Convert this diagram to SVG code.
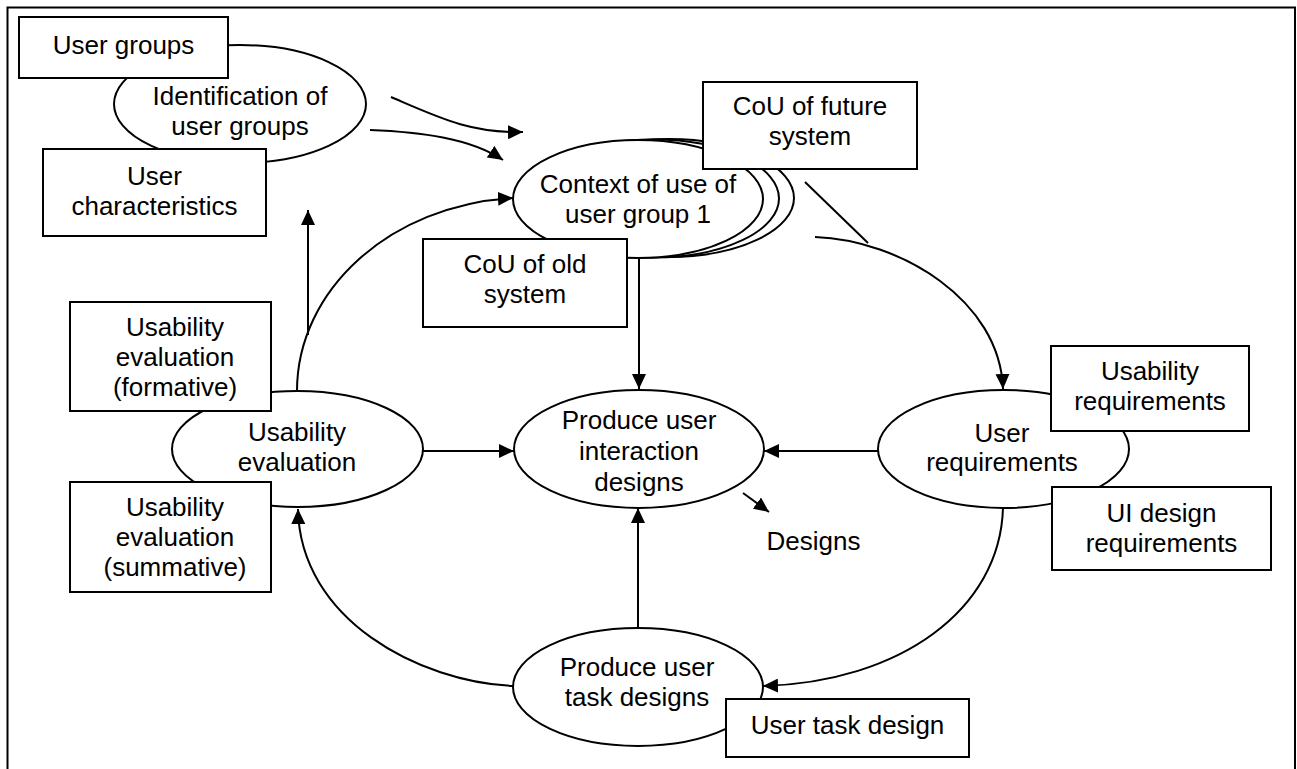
<svg xmlns="http://www.w3.org/2000/svg" width="1297" height="769" viewBox="0 0 1297 769">
  <defs>
    <marker id="arrow" markerWidth="16" markerHeight="14" refX="15" refY="7" orient="auto" markerUnits="userSpaceOnUse">
      <path d="M0,0 L15,7 L0,14 Z" fill="#000"/>
    </marker>
    <style>
      .box { fill: #fff; stroke: #000; stroke-width: 2; }
      .oval { fill: #fff; stroke: #000; stroke-width: 2; }
      .ln { fill: none; stroke: #000; stroke-width: 2; }
      .arr { fill: none; stroke: #000; stroke-width: 2; marker-end: url(#arrow); }
      text { font-family: "Liberation Sans", Arial, sans-serif; font-size: 26px; fill: #000; text-anchor: middle; }
    </style>
  </defs>

  <rect width="1297" height="769" fill="#fff"/>
  <!-- outer frame (open at the bottom) -->
  <rect x="7.5" y="7.5" width="1287.5" height="800" fill="none" stroke="#000" stroke-width="2"/>

  <!-- connectors -->
  <g id="connectors">
    <path class="arr" d="M391,97 C440,118 470,133 523,132"/>
    <path class="arr" d="M370,130 C420,132 470,138 503,160"/>
    <path class="arr" d="M297,391 C297,290 390,205 513,198"/>
    <path class="arr" d="M308,335 L308,210"/>
    <path class="arr" d="M639,258 L639,389"/>
    <path class="arr" d="M815,237 C900,240 1000,300 1003,389"/>
    <path class="ln" d="M805,182 L868,243"/>
    <path class="arr" d="M423,451 L514,451"/>
    <path class="arr" d="M879,451 L764,451"/>
    <path class="arr" d="M638,628 L638,508"/>
    <path class="arr" d="M1003,508 C1000,610 900,682 763,686"/>
    <path class="arr" d="M513,686 C420,682 300,620 298,509"/>
    <path class="arr" d="M743,493 L769,512"/>
  </g>

  <!-- Identification of user groups -->
  <g id="identification">
    <ellipse class="oval" cx="240" cy="104" rx="126" ry="59"/>
    <text x="240" y="105">Identification of</text>
    <text x="240" y="135">user groups</text>
  </g>
  <g id="user-groups">
    <rect class="box" x="19" y="17" width="209" height="61"/>
    <text x="123.5" y="54">User groups</text>
  </g>
  <g id="user-characteristics">
    <rect class="box" x="43" y="149" width="223" height="87"/>
    <text x="154.5" y="185">User</text>
    <text x="154.5" y="215">characteristics</text>
  </g>

  <!-- Context of use, stacked for several user groups -->
  <g id="context-of-use">
    <ellipse class="oval" cx="669" cy="198" rx="125" ry="59"/>
    <ellipse class="oval" cx="654" cy="198.5" rx="125" ry="59"/>
    <ellipse class="oval" cx="638" cy="199" rx="125" ry="59"/>
    <text x="638" y="193">Context of use of</text>
    <text x="638" y="223">user group 1</text>
  </g>
  <g id="cou-future">
    <rect class="box" x="703" y="82" width="214" height="87"/>
    <text x="810" y="115">CoU of future</text>
    <text x="810" y="145">system</text>
  </g>
  <g id="cou-old">
    <rect class="box" x="423" y="239" width="204" height="88"/>
    <text x="525" y="273">CoU of old</text>
    <text x="525" y="303">system</text>
  </g>

  <!-- Usability evaluation -->
  <g id="usability-evaluation">
    <ellipse class="oval" cx="297.5" cy="449" rx="125.5" ry="58"/>
    <text x="297" y="441">Usability</text>
    <text x="297" y="471">evaluation</text>
  </g>
  <g id="usability-formative">
    <rect class="box" x="70" y="302" width="201" height="109"/>
    <text x="175" y="336">Usability</text>
    <text x="175" y="366">evaluation</text>
    <text x="175" y="396">(formative)</text>
  </g>
  <g id="usability-summative">
    <rect class="box" x="70" y="482" width="201" height="110"/>
    <text x="175" y="516">Usability</text>
    <text x="175" y="546">evaluation</text>
    <text x="175" y="576">(summative)</text>
  </g>

  <!-- Produce user interaction designs -->
  <g id="interaction-designs">
    <ellipse class="oval" cx="639" cy="449" rx="125" ry="59"/>
    <text x="639" y="429">Produce user</text>
    <text x="639" y="460">interaction</text>
    <text x="639" y="491">designs</text>
  </g>
  <g id="designs-label">
    <text x="813.5" y="550">Designs</text>
  </g>

  <!-- User requirements -->
  <g id="user-requirements">
    <ellipse class="oval" cx="1003.5" cy="449" rx="125.5" ry="59"/>
    <text x="1002" y="442">User</text>
    <text x="1002" y="471">requirements</text>
  </g>
  <g id="usability-requirements">
    <rect class="box" x="1051" y="346" width="198" height="85"/>
    <text x="1150" y="380">Usability</text>
    <text x="1150" y="410">requirements</text>
  </g>
  <g id="ui-design-requirements">
    <rect class="box" x="1052" y="487" width="219" height="83"/>
    <text x="1161.5" y="522">UI design</text>
    <text x="1161.5" y="552">requirements</text>
  </g>

  <!-- Produce user task designs -->
  <g id="task-designs">
    <ellipse class="oval" cx="638" cy="687" rx="125" ry="59"/>
    <text x="637" y="676">Produce user</text>
    <text x="637" y="706">task designs</text>
  </g>
  <g id="user-task-design">
    <rect class="box" x="726" y="699" width="243" height="58"/>
    <text x="847.5" y="734">User task design</text>
  </g>
</svg>
